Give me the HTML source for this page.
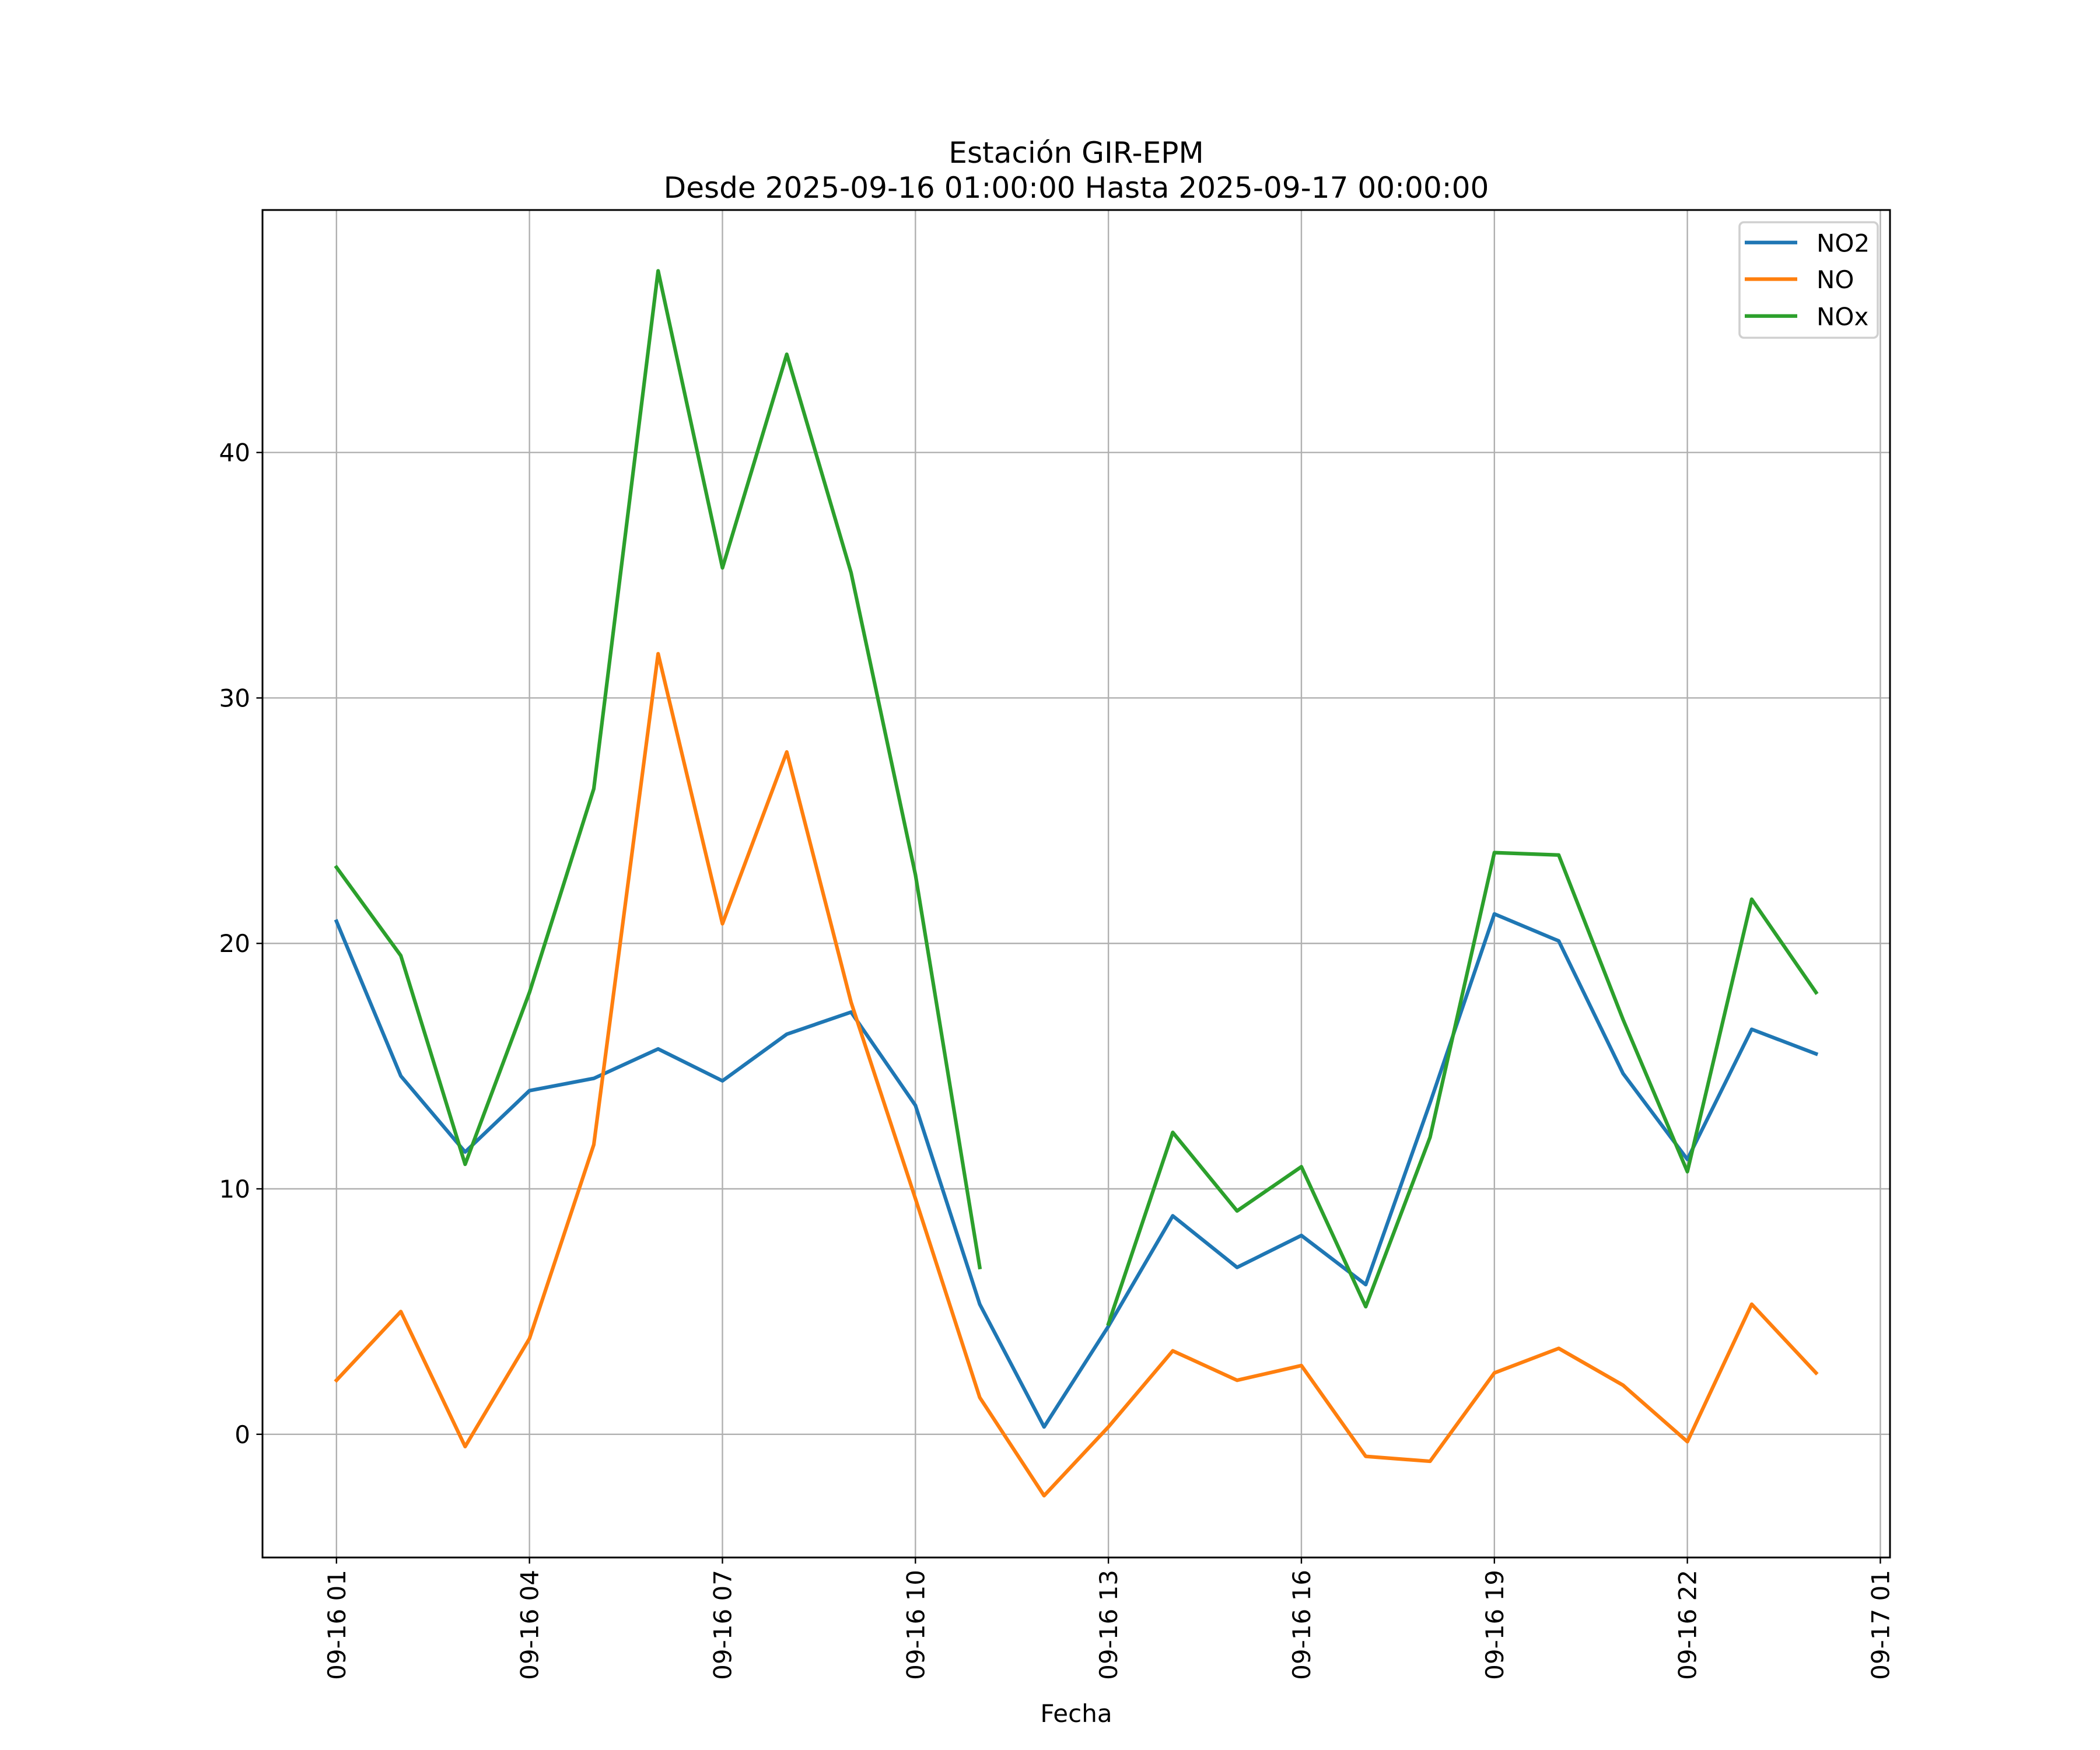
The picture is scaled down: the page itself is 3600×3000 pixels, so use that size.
<!DOCTYPE html>
<html><head><meta charset="utf-8"><style>
html,body{margin:0;padding:0;background:#fff}
svg{display:block;font-family:"DejaVu Sans","Liberation Sans",sans-serif}
</style></head><body>
<svg id="chart" width="3600" height="3000" viewBox="0 0 1200 1000" xmlns="http://www.w3.org/2000/svg">
<rect width="1200" height="1000" fill="#fff"/>
<text x="615" y="93" text-anchor="middle" font-size="16.7">Estación GIR-EPM</text>
<text x="615" y="113" text-anchor="middle" font-size="16.7">Desde 2025-09-16 01:00:00 Hasta 2025-09-17 00:00:00</text>
<g id="grid"></g>
<g id="series"></g>
<rect x="150" y="120" width="930" height="770" fill="none" stroke="#000" stroke-width="1"/>
<g id="axes"></g>
<text x="615" y="984" text-anchor="middle" font-size="14">Fecha</text>
<g>
<rect x="994" y="127" width="79" height="66" fill="#fff" fill-opacity="0.8" stroke="#d0d0d0" stroke-width="1.2" rx="2.5"/>
<line x1="997" y1="138.6" x2="1027" y2="138.6" stroke="#1f77b4" stroke-width="2.08"/>
<text x="1038" y="143.8" font-size="14">NO2</text>
<line x1="997" y1="159.5" x2="1027" y2="159.5" stroke="#ff7f0e" stroke-width="2.08"/>
<text x="1038" y="164.7" font-size="14">NO</text>
<line x1="997" y1="180.6" x2="1027" y2="180.6" stroke="#2ca02c" stroke-width="2.08"/>
<text x="1038" y="185.8" font-size="14">NOx</text>
</g>
</svg>
<script>
const hours = [1,2,3,4,5,6,7,8,9,10,11,12,13,14,15,16,17,18,19,20,21,22,23,24];
const no2 = [20.9,14.6,11.5,14.0,14.5,15.7,14.4,16.3,17.2,13.4,5.3,0.3,4.4,8.9,6.8,8.1,6.1,13.5,21.2,20.1,14.7,11.2,16.5,15.5];
const no = [2.2,5.0,-0.5,3.9,11.8,31.8,20.8,27.8,17.6,9.6,1.5,-2.5,0.3,3.4,2.2,2.8,-0.9,-1.1,2.5,3.5,2.0,-0.3,5.3,2.5];
const nox = [23.1,19.5,11.0,18.0,26.3,47.4,35.3,44.0,35.1,22.8,6.8,null,4.5,12.3,9.1,10.9,5.2,12.1,23.7,23.6,16.9,10.7,21.8,18.0];
const xTickHours = [1,4,7,10,13,16,19,22,25];
const xTickLabels = ["09-16 01","09-16 04","09-16 07","09-16 10","09-16 13","09-16 16","09-16 19","09-16 22","09-17 01"];
const yTicks = [0,10,20,30,40];

const NS="http://www.w3.org/2000/svg";
const X0=150,X1=1080,Y0=890,Y1=120;
const xmin=-0.15,xmax=25.15,ymin=-5.02,ymax=49.88;
function xs(h){return X0+(h-xmin)/(xmax-xmin)*(X1-X0);}
function ys(v){return Y0-(v-ymin)/(ymax-ymin)*(Y0-Y1);}
function mk(tag,attrs,parent){const e=document.createElementNS(NS,tag);for(const k in attrs)e.setAttribute(k,attrs[k]);parent.appendChild(e);return e;}
const grid=document.getElementById('grid'),axes=document.getElementById('axes'),series=document.getElementById('series');
xTickHours.forEach((h,i)=>{
  const x=xs(h);
  const g=mk('line',{x1:x,y1:Y1,x2:x,y2:Y0,stroke:'#b0b0b0','stroke-width':0.8},grid);
  
  
  const t=mk('line',{x1:x,y1:Y0,x2:x,y2:Y0+3.5,stroke:'#000','stroke-width':0.8},axes);
  
  
  const l=mk('text',{x:0,y:0,'font-size':14,'text-anchor':'end',transform:`translate(${x+5},${Y0+7}) rotate(-90)`},axes);
  l.textContent=xTickLabels[i];
  
  
});
yTicks.forEach(v=>{
  const y=ys(v);
  const g=mk('line',{x1:X0,y1:y,x2:X1,y2:y,stroke:'#b0b0b0','stroke-width':0.8},grid);
  
  
  const t=mk('line',{x1:X0-3.5,y1:y,x2:X0,y2:y,stroke:'#000','stroke-width':0.8},axes);
  
  
  const l=mk('text',{x:X0-7,y:y+5,'font-size':14,'text-anchor':'end'},axes);
  l.textContent=String(v);
  
  
});
function draw(vals,color,name){
  let d='',pen=false;
  vals.forEach((v,i)=>{
    if(v===null){pen=false;return;}
    d+=(pen?'L':'M')+xs(hours[i]).toFixed(2)+' '+ys(v).toFixed(2)+' ';
    pen=true;
  });
  const p=mk('path',{d:d,fill:'none',stroke:color,'stroke-width':2.08,'stroke-linejoin':'round','stroke-linecap':'square'},series);
  
  
}
draw(no2,'#1f77b4','line-no2');
draw(no,'#ff7f0e','line-no');
draw(nox,'#2ca02c','line-nox');
</script>
</body></html>
